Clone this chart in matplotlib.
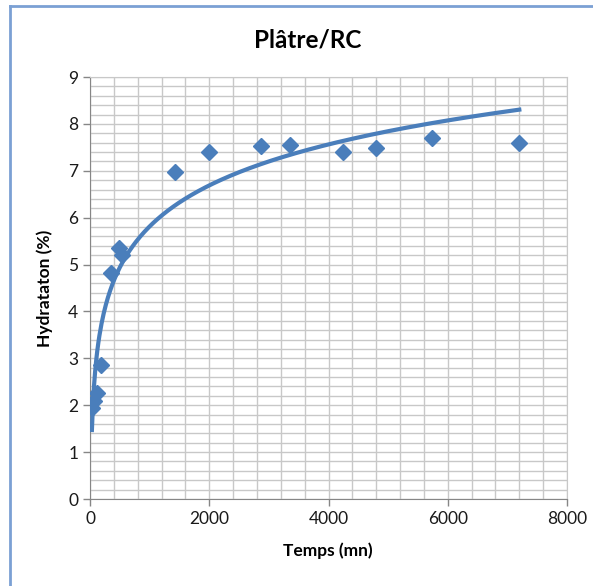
import matplotlib

matplotlib.use("Agg")
import matplotlib.pyplot as plt
import numpy as np
from matplotlib.lines import Line2D
from matplotlib.ticker import MultipleLocator

# measured points: time (min) vs hydration (%)
temps = [32, 60, 120, 180, 360, 480, 540, 1420, 1990, 2860, 3350, 4250, 4800, 5740, 7200]
hydratation = [1.95, 2.08, 2.26, 2.85, 4.81, 5.36, 5.2, 6.97, 7.4, 7.52, 7.56, 7.4, 7.48, 7.7, 7.6]

title = "Plâtre/RC"
xlabel = "Temps (mn)"
ylabel = "Hydrataton (%)"

BLUE = "#4a7ebb"
GRID = "#c8c8c8"
AXIS = "#868686"

plt.rcParams["font.family"] = ["Lato", "DejaVu Sans"]

fig = plt.figure(figsize=(5.93, 5.86), dpi=100)
ax = fig.add_axes((90 / 593, 1 - 499 / 586, 477 / 593, 422 / 586))

x = np.array(temps, dtype=float)
y = np.array(hydratation, dtype=float)

# logarithmic trend line (Excel style)
a, b = np.polyfit(np.log(x), y, 1)
xt = np.linspace(x.min(), x.max(), 400)
ax.plot(xt, a * np.log(xt) + b, color=BLUE, lw=3, zorder=3)
ax.plot(x, y, "D", color=BLUE, ms=7.8, mec=BLUE, zorder=4)

ax.set_xlim(0, 8000)
ax.set_ylim(0, 9)
ax.xaxis.set_major_locator(MultipleLocator(2000))
ax.xaxis.set_minor_locator(MultipleLocator(400))
ax.yaxis.set_major_locator(MultipleLocator(1))
ax.yaxis.set_minor_locator(MultipleLocator(0.2))
ax.grid(True, which="both", color=GRID, lw=1)
ax.set_axisbelow(True)
ax.tick_params(which="major", length=5, width=1, color=AXIS, labelsize=12.5,
               labelcolor="#1a1a1a", direction="out")
ax.tick_params(which="minor", length=0)
for side in ("left", "bottom"):
    ax.spines[side].set_color(AXIS)
for side in ("top", "right"):
    ax.spines[side].set_color(GRID)

fig.text(308 / 593, 1 - 40 / 586, title, ha="center", va="center",
         fontsize=17.5, fontweight="bold")
fig.text(328 / 593, 1 - 551 / 586, xlabel, ha="center", va="center",
         fontsize=12.5, fontweight="bold")
fig.text(45 / 593, 1 - 288 / 586, ylabel, ha="center", va="center",
         rotation=90, fontsize=12.5, fontweight="bold")

# chart frame, only left and top edges are visible in the screenshot
fig.add_artist(Line2D([10 / 593, 10 / 593], [0, 1 - 6 / 586],
                      transform=fig.transFigure, color="#7ba0d4", lw=2))
fig.add_artist(Line2D([10 / 593, 1], [1 - 6 / 586, 1 - 6 / 586],
                      transform=fig.transFigure, color="#7ba0d4", lw=2))

fig.savefig("out.png", dpi=100)
plt.close(fig)
